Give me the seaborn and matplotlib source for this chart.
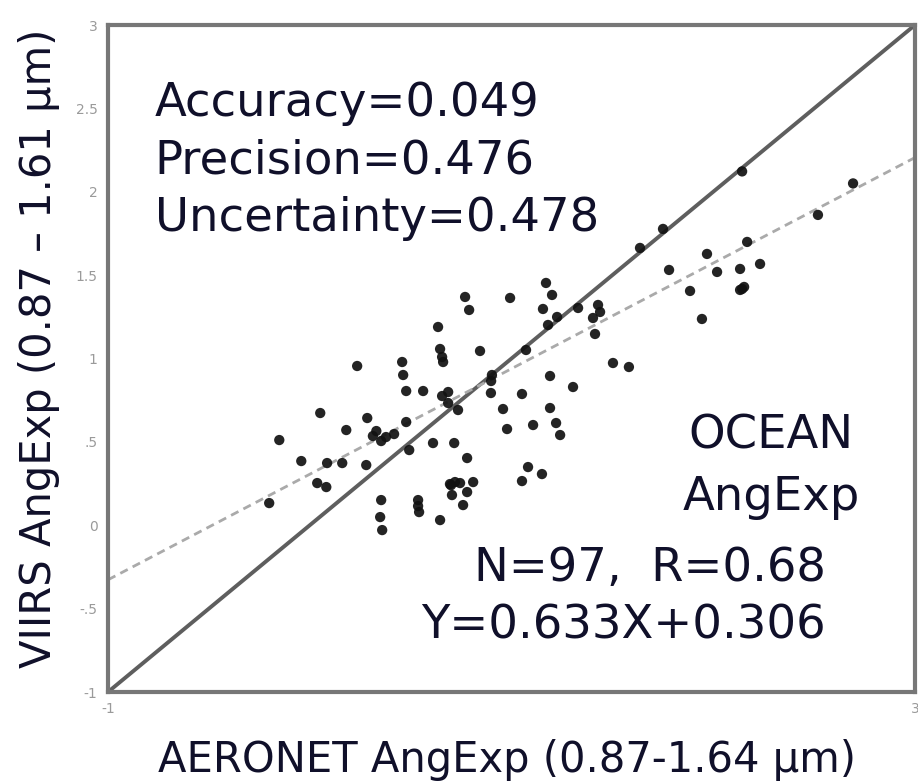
import numpy as np
import pandas as pd
import matplotlib
matplotlib.use("Agg")
import matplotlib.pyplot as plt
import seaborn as sns

# ---- data ----
aeronet = [
    -0.201, -0.151, -0.042, 0.037, 0.082, 0.052, 0.161, 0.181, 0.235, 0.285,
    0.280, 0.330, 0.354, 0.418, 0.349, 0.359, 0.458, 0.463, 0.478, 0.478,
    0.493, 0.537, 0.542, 0.562, 0.611, 0.636, 0.646, 0.661, 0.686, 0.686,
    0.735, 0.716, 0.646, 0.695, 0.745, 0.810, 0.705, 0.760, 0.770, 0.790,
    0.844, 0.903, 0.898, 0.958, 0.993, 1.052, 0.978, 1.072, 1.107, 1.082,
    1.151, 1.052, 1.201, 1.156, 1.181, 1.191, 1.191, 1.221, 1.241, 1.305,
    1.330, 1.404, 1.439, 1.414, 1.503, 1.582, 1.637, 1.751, 1.781,
    1.885, 1.944, 1.969, 2.019, 2.143, 2.143, 2.133, 2.168, 2.232, 2.519,
    2.693,
    0.378, 0.720, 0.780, 0.656, 0.354, 0.537, 0.086, 0.656, 0.899, 1.429,
    2.153, 1.226, 0.780, 1.171, 2.133, 0.313, 0.700,
]
viirs = [
    0.133, 0.511, 0.385, 0.253, 0.229, 0.673, 0.373, 0.571, 0.955, 0.643,
    0.361, 0.565, 0.505, 0.547, 0.049, -0.029, 0.979, 0.901, 0.805, 0.619,
    0.451, 0.151, 0.079, 0.805, 0.493, 1.189, 1.057, 0.979, 0.799, 0.733,
    0.691, 0.493, 0.031, 0.247, 0.253, 0.259, 0.181, 0.121, 1.369, 1.291,
    1.045, 0.901, 0.793, 0.697, 1.363, 0.787, 0.577, 1.051, 0.601, 0.349,
    0.307, 0.265, 1.381, 1.297, 1.201, 0.895, 0.703, 0.613, 0.541, 0.829,
    1.303, 1.243, 1.279, 1.147, 0.973, 0.949, 1.663, 1.777, 1.531,
    1.405, 1.237, 1.627, 1.519, 2.122, 1.417, 1.537, 1.699, 1.567, 1.861,
    2.050,
    0.529, 0.259, 0.199, 0.775, 0.151, 0.115, 0.373, 1.009, 0.865, 1.321,
    1.429, 1.249, 0.403, 1.453, 1.411, 0.535, 0.240,
]
one_to_one_x = [-1.0, 3.0]
fit_slope = 0.633
fit_intercept = 0.306
stats_lines = ["Accuracy=0.049", "Precision=0.476", "Uncertainty=0.478"]
box_lines = ["OCEAN", "AngExp"]
fit_lines = ["N=97,  R=0.68", "Y=0.633X+0.306"]
ticks = [-1.0, -0.5, 0.0, 0.5, 1.0, 1.5, 2.0, 2.5, 3.0]
ytick_labels = ["-1", "-.5", "0", ".5", "1", "1.5", "2", "2.5", "3"]
xtick_labels = ["-1", "", "", "", "", "", "", "", "3"]

df = pd.DataFrame({"AERONET": aeronet, "VIIRS": viirs})
line_df = pd.DataFrame({"x": one_to_one_x, "y": one_to_one_x})
fit_df = pd.DataFrame({"x": one_to_one_x,
                       "y": [fit_slope * v + fit_intercept for v in one_to_one_x]})

sns.set_theme(style="white")
plt.rcParams["font.family"] = ["DejaVu Sans"]

fig = plt.figure(figsize=(9.18, 7.84), dpi=100)
ax = fig.add_axes([108 / 918, 92 / 784, 807 / 918, 667 / 784])

sns.lineplot(data=line_df, x="x", y="y", ax=ax, color="#5e5e5e", lw=2.8, zorder=2)
sns.lineplot(data=fit_df, x="x", y="y", ax=ax, color="#aaaaaa", lw=2.0,
             linestyle=(0, (3, 2)), zorder=2)
sns.scatterplot(data=df, x="AERONET", y="VIIRS", ax=ax, color="#111111",
                s=55, marker="o", edgecolor="none", alpha=0.92, zorder=3)

ax.set_xlim(-1, 3)
ax.set_ylim(-1, 3)
ax.set_xticks(ticks)
ax.set_yticks(ticks)
ax.set_xticklabels(xtick_labels)
ax.set_yticklabels(ytick_labels)
ax.tick_params(axis="both", direction="inout", length=9, width=2,
               color="#888888", labelcolor="#9a9a9a", labelsize=10, pad=3)
for sp in ax.spines.values():
    sp.set_color("#777777")
    sp.set_linewidth(3)

txt_color = "#10102a"
fs = 33.5
for i, s in enumerate(stats_lines):
    ax.text(0.058, 0.882 - i * 0.086, s, transform=ax.transAxes, fontsize=fs,
            color=txt_color, ha="left", va="center")
for i, s in enumerate(box_lines):
    ax.text(0.822, 0.384 - i * 0.093, s, transform=ax.transAxes, fontsize=fs,
            color=txt_color, ha="center", va="center")
for i, s in enumerate(fit_lines):
    ax.text(0.89, 0.185 - i * 0.086, s, transform=ax.transAxes, fontsize=fs,
            color=txt_color, ha="right", va="center")

ax.set_xlabel("AERONET AngExp (0.87-1.64 μm)", fontsize=30, color=txt_color)
ax.set_ylabel("VIIRS AngExp (0.87 – 1.61 μm)", fontsize=30, color=txt_color)
ax.xaxis.set_label_coords(0.495, -0.071)
ax.yaxis.set_label_coords(-0.06, 0.515)

fig.savefig("out.png", dpi=100)
